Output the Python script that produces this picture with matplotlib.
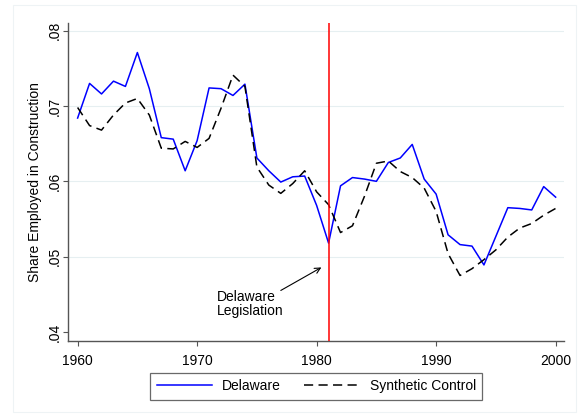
#!/usr/bin/env python3
"""Delaware vs synthetic control: share employed in construction"""

import numpy as np
import matplotlib; matplotlib.use('Agg')
import matplotlib.pyplot as plt
from matplotlib.patches import Rectangle

plt.rcParams['font.family'] = ['Liberation Sans', 'DejaVu Sans']
plt.rcParams['font.size'] = 10

##########################################################
years = np.arange(1960, 2001)
delaware = [0.0684, 0.0730, 0.0716, 0.0733, 0.0726, 0.0771, 0.0723, 0.0658,
            0.0656, 0.0614, 0.0654, 0.0724, 0.0723, 0.0714, 0.0729, 0.0631,
            0.0614, 0.0599, 0.0606, 0.0607, 0.0568, 0.0518, 0.0594, 0.0605,
            0.0603, 0.0600, 0.0625, 0.0631, 0.0649, 0.0603, 0.0583, 0.0529,
            0.0516, 0.0514, 0.0489, 0.0527, 0.0565, 0.0564, 0.0562, 0.0593,
            0.0579]
synthetic = [0.0698, 0.0674, 0.0668, 0.0688, 0.0704, 0.0710, 0.0688, 0.0644,
             0.0643, 0.0653, 0.0645, 0.0657, 0.0697, 0.0741, 0.0726, 0.0619,
             0.0595, 0.0584, 0.0597, 0.0614, 0.0586, 0.0569, 0.0532, 0.0541,
             0.0580, 0.0624, 0.0627, 0.0613, 0.0605, 0.0591, 0.0560, 0.0504,
             0.0475, 0.0484, 0.0496, 0.0509, 0.0526, 0.0538, 0.0544, 0.0555,
             0.0564]
treat_year = 1981
xticks = [1960, 1970, 1980, 1990, 2000]
yticks = [0.04, 0.05, 0.06, 0.07, 0.08]
yticklabels = ['.04', '.05', '.06', '.07', '.08']

##########################################################
fig = plt.figure(figsize=(5.81, 4.17), dpi=100)
fig.patches.append(Rectangle((12.7 / 581, 5 / 417), 1 - 18 / 581, 1 - 10 / 417,
                             transform=fig.transFigure, fill=False,
                             edgecolor='#eef3f5', linewidth=0.8))
ax = fig.add_axes([68.3 / 581, 1 - 340.7 / 417, (564 - 68.3) / 581,
                   (340.7 - 22.7) / 417])

for yv in yticks[1:]:
    ax.axhline(yv, color='#e6eff1', linewidth=0.8, zorder=0)

ax.plot(years, delaware, color='#0000ff', linewidth=1.1, label='Delaware',
        zorder=3)
ax.plot(years, synthetic, color='black', linewidth=1.1,
        linestyle=(0, (6, 3.5)), label='Synthetic Control', zorder=3)
ax.axvline(treat_year, color='#ff0000', linewidth=1.1, zorder=4)

ax.annotate('', xy=(1980.6, 0.04875), xytext=(1976.8, 0.04533),
            arrowprops=dict(arrowstyle='->', color='black', linewidth=0.8,
                            mutation_scale=10))
ax.text(1971.66, 0.04371, 'Delaware\nLegislation', ha='left', va='center',
        linespacing=1.0)

ax.set_xlim(1959.22, 2000.7)
ax.set_ylim(0.03884, 0.08106)
ax.set_xticks(xticks)
ax.set_yticks(yticks)
ax.set_yticklabels(yticklabels, rotation=90, va='center')
ax.set_ylabel('Share Employed in Construction')
ax.yaxis.set_label_coords(-0.0537, 0.5)

for side in ['top', 'right']:
    ax.spines[side].set_visible(False)
for side in ['left', 'bottom']:
    ax.spines[side].set_color('#555555')
    ax.spines[side].set_linewidth(1.0)
ax.tick_params(axis='both', direction='out', length=3.6, width=0.8,
               color='#555555')
ax.tick_params(axis='x', pad=6)
ax.tick_params(axis='y', pad=1.2)

leg = ax.legend(loc='upper center', bbox_to_anchor=(0.5, -0.08), ncol=2,
                frameon=True, fancybox=False, handlelength=4.0,
                handletextpad=0.7, columnspacing=1.7, borderpad=0.45)
leg.get_frame().set_edgecolor('#444444')
leg.get_frame().set_linewidth(0.9)

fig.savefig('out.png', dpi=100)
